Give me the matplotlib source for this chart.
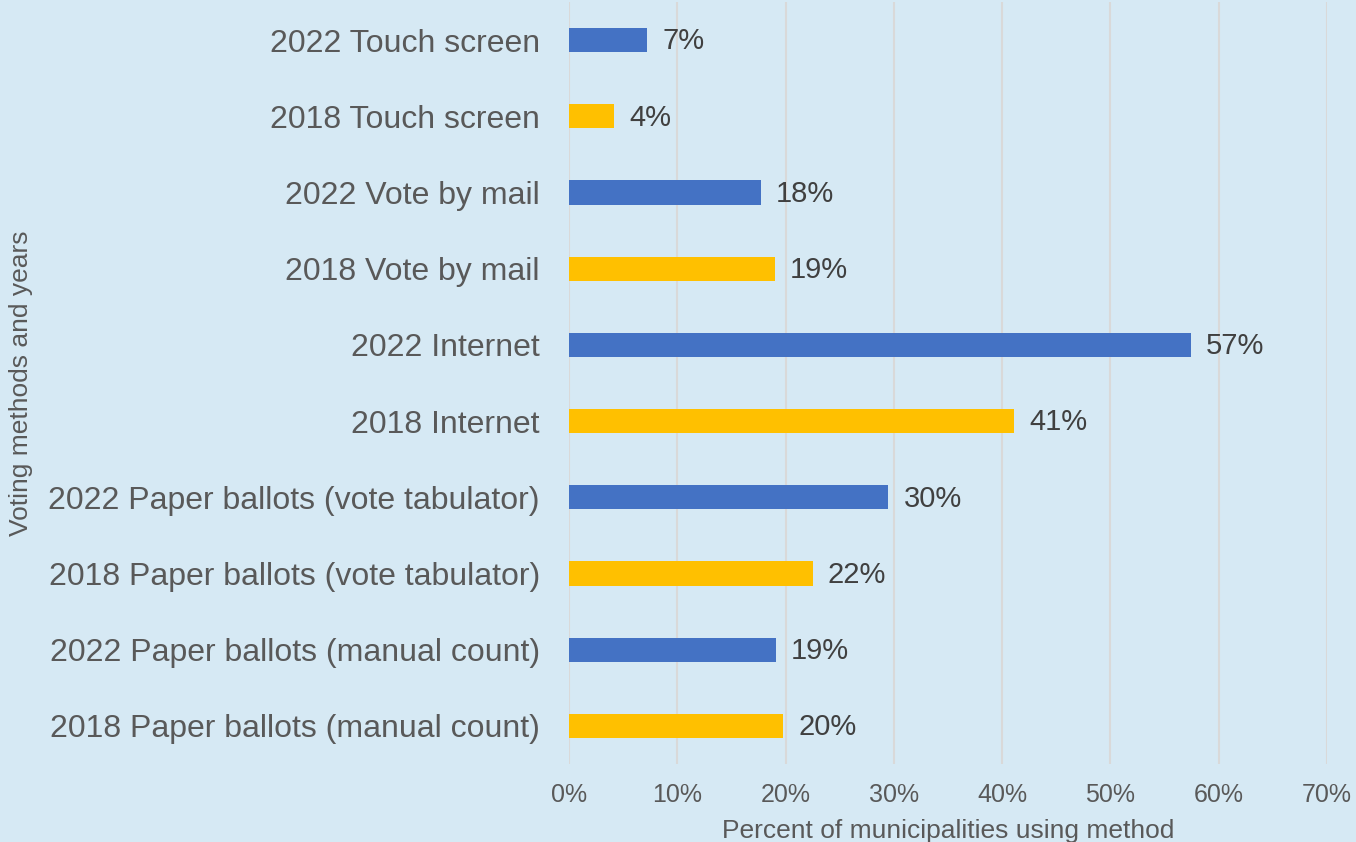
import numpy as np
import matplotlib
matplotlib.use("Agg")
import matplotlib.pyplot as plt

plt.rcParams['font.family'] = ['Liberation Sans', 'DejaVu Sans']

# top to bottom, as in the chart
categories = [
    "2022 Touch screen",
    "2018 Touch screen",
    "2022 Vote by mail",
    "2018 Vote by mail",
    "2022 Internet",
    "2018 Internet",
    "2022 Paper ballots (vote tabulator)",
    "2018 Paper ballots (vote tabulator)",
    "2022 Paper ballots (manual count)",
    "2018 Paper ballots (manual count)",
]
values = [7.2, 4.2, 17.7, 19.0, 57.4, 41.1, 29.5, 22.5, 19.1, 19.8]
labels = ["7%", "4%", "18%", "19%", "57%", "41%", "30%", "22%", "19%", "20%"]
years = [2022, 2018, 2022, 2018, 2022, 2018, 2022, 2018, 2022, 2018]
x_ticks = [0, 10, 20, 30, 40, 50, 60, 70]

bg = "#D6E9F4"
year_colors = {2022: "#4472C4", 2018: "#FFC000"}

fig = plt.figure(figsize=(13.56, 8.42), dpi=100, facecolor=bg)
ax = fig.add_axes([569 / 1356, 1 - 764 / 842, (1327 - 569) / 1356, 762 / 842])
ax.set_facecolor(bg)

y = np.arange(len(categories))
bars = ax.barh(y, values, height=0.315, color=[year_colors[yr] for yr in years], zorder=3)
for b, lab in zip(bars, labels):
    ax.annotate(lab, (b.get_width(), b.get_y() + b.get_height() / 2),
                xytext=(11, -1), textcoords="offset points",
                ha="left", va="center", fontsize=21, color="#404040")

ax.set_yticks(y)
ax.set_yticklabels(categories, fontsize=23, color="#595959")
ax.set_ylim(len(categories) - 0.5, -0.5)

ax.set_xlim(0, 70)
ax.set_xticks(x_ticks)
ax.set_xticklabels([f"{t}%" for t in x_ticks], fontsize=18, color="#595959")
ax.tick_params(axis="y", length=0, pad=21)
ax.tick_params(axis="x", length=0, pad=14)
ax.grid(axis="x", color="#D9D9D9", linewidth=1.5, zorder=0)
for s in ax.spines.values():
    s.set_visible(False)

ax.set_xlabel("Percent of municipalities using method", fontsize=19, color="#595959", labelpad=8)
ax.set_ylabel("Voting methods and years", fontsize=19, color="#595959")
ax.yaxis.set_label_coords(-0.707, 0.5)

fig.savefig("out.png", dpi=100, facecolor=bg)
